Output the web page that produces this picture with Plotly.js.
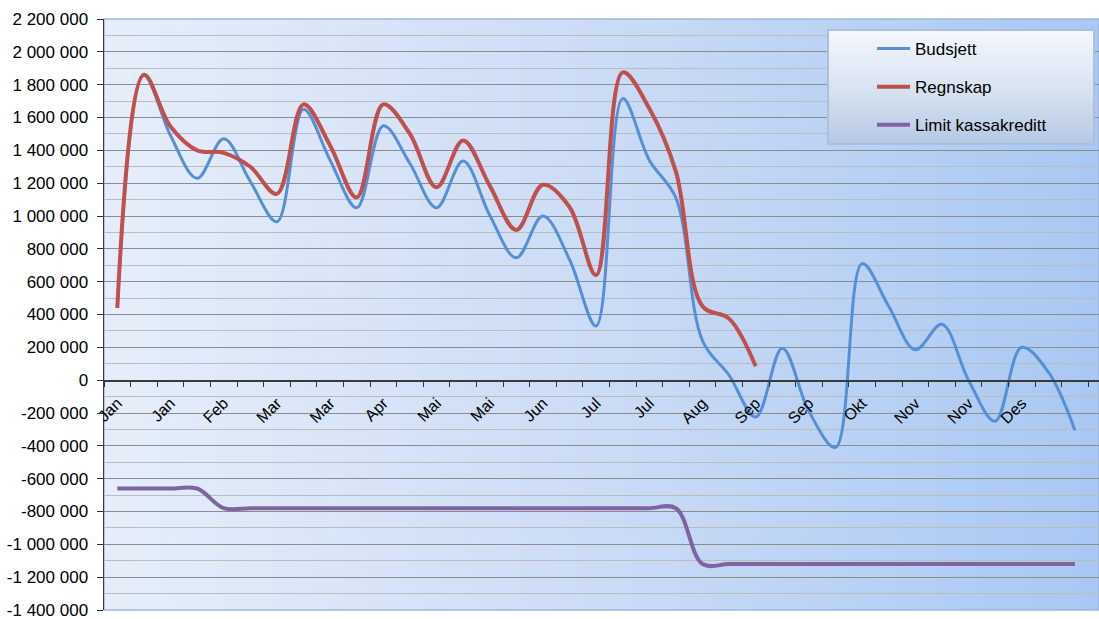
<!DOCTYPE html>
<html>
<head>
<meta charset="utf-8">
<script src="https://cdn.plot.ly/plotly-3.0.1.min.js"></script>
<style>
  html, body { margin: 0; padding: 0; background: #ffffff; }
  #chart { width: 1099px; height: 619px; }
</style>
</head>
<body>
<div id="chart"></div>
<script>
// ---- data ----
var tickLabels = ['Jan','Jan','Feb','Mar','Mar','Apr','Mai','Mai','Jun','Jul','Jul','Aug','Sep','Sep','Okt','Nov','Nov','Des'];
var tickLabelPos = [0,2,4,6,8,10,12,14,16,18,20,22,24,26,28,30,32,34];

var periods = [0,1,2,3,4,5,6,7,8,9,10,11,12,13,14,15,16,17,18,19,20,21,22,23,24,25,26,27,28,29,30,31,32,33,34,35,36];

var budsjett = [440000,1860000,1490000,1230000,1470000,1210000,965000,1650000,1340000,1050000,
                1550000,1320000,1050000,1335000,1005000,745000,1000000,735000,330000,1715000,
                1340000,1110000,240000,30000,-225000,195000,-190000,-410000,710000,450000,
                185000,340000,0,-250000,200000,50000,-305000];

var regnskap = [440000,1860000,1545000,1400000,1385000,1300000,1135000,1680000,1430000,1113000,
                1680000,1500000,1175000,1460000,1185000,915000,1190000,1055000,640000,1875000,
                1655000,1270000,450000,375000,85000];

var limit = [-660000,-660000,-660000,-660000,-780000,-780000,-780000,-780000,-780000,-780000,
             -780000,-780000,-780000,-780000,-780000,-780000,-780000,-780000,-780000,-780000,
             -780000,-780000,-1120000,-1120000,-1120000,-1120000,-1120000,-1120000,-1120000,-1120000,
             -1120000,-1120000,-1120000,-1120000,-1120000,-1120000,-1120000];

var yTickVals = [2200000,2000000,1800000,1600000,1400000,1200000,1000000,800000,600000,400000,200000,0,
                 -200000,-400000,-600000,-800000,-1000000,-1200000,-1400000];
var yTickText = ['2 200 000','2 000 000','1 800 000','1 600 000','1 400 000','1 200 000','1 000 000',
                 '800 000','600 000','400 000','200 000','0','-200 000','-400 000','-600 000','-800 000',
                 '-1 000 000','-1 200 000','-1 400 000'];

// ---- helpers for styling ----
function gradientURL(w, h, stops, horizontal, border) {
  var c = document.createElement('canvas');
  c.width = w; c.height = h;
  var ctx = c.getContext('2d');
  var g = horizontal ? ctx.createLinearGradient(0, 0, w, 0) : ctx.createLinearGradient(0, 0, 0, h);
  stops.forEach(function (s) { g.addColorStop(s[0], s[1]); });
  ctx.fillStyle = g;
  ctx.fillRect(0, 0, w, h);
  if (border) {
    ctx.strokeStyle = border;
    ctx.lineWidth = 2;
    ctx.strokeRect(1, 1, w - 2, h - 2);
  }
  return c.toDataURL('image/png');
}

var halfTicks = [];
for (var k = -0.5; k <= 37; k += 1) halfTicks.push(k);
var minorY = [];
for (var m = -1300000; m <= 2100000; m += 200000) minorY.push(m);

var W = 1099, H = 619, ML = 104, MR = 0, MT = 19, MB = 9;
var PW = W - ML - MR, PH = H - MT - MB;
function px(xp) { return (xp - ML) / PW; }
function py(yp) { return (H - MB - yp) / PH; }

var bgURL = gradientURL(600, 20, [[0, '#e6eefb'], [0.5, '#cbdcf6'], [1, '#a9c8f3']], true, null);
var lgW = 268, lgH = 116;
var legendURL = gradientURL(lgW, lgH, [[0, '#f5f8fd'], [0.55, '#d6e1f0'], [1, '#b4c8e4']], false, '#aebfd9');

var font = 'Liberation Sans, Arial, sans-serif';

var traces = [
  { x: periods, y: budsjett, name: 'Budsjett', type: 'scatter', mode: 'lines',
    line: { color: '#5590d6', width: 3, shape: 'spline', smoothing: 1 }, legendgroup: 'a' },
  { x: periods.slice(0, regnskap.length), y: regnskap, name: 'Regnskap', type: 'scatter', mode: 'lines',
    line: { color: '#c0504d', width: 4, shape: 'spline', smoothing: 1 }, legendgroup: 'b' },
  { x: periods, y: limit, name: 'Limit kassakreditt', type: 'scatter', mode: 'lines',
    line: { color: '#8064a2', width: 4, shape: 'spline', smoothing: 1 }, legendgroup: 'c' }
];

var layout = {
  width: W, height: H,
  margin: { l: ML, r: MR, t: MT, b: MB },
  paper_bgcolor: '#ffffff',
  plot_bgcolor: 'rgba(0,0,0,0)',
  font: { family: font, size: 17, color: '#000000' },
  showlegend: true,
  legend: {
    x: px(872), y: py(31), xanchor: 'left', yanchor: 'top',
    bgcolor: 'rgba(0,0,0,0)', borderwidth: 0,
    font: { family: font, size: 17, color: '#000' },
    traceorder: 'grouped', tracegroupgap: 13,
    itemwidth: 33
  },
  xaxis: {
    type: 'linear',
    range: [-0.5, -0.5 + PW / 26.6],
    tickmode: 'array', tickvals: tickLabelPos, ticktext: tickLabels,
    tickangle: -45,
    ticks: '', ticklabelstandoff: 6,
    minor: { tickmode: 'array', tickvals: halfTicks, ticks: 'outside', ticklen: 5, tickcolor: '#333', tickwidth: 1, showgrid: false },
    showline: true, linecolor: '#3a3a3a', linewidth: 1.5,
    showgrid: false, zeroline: false,
    anchor: 'free', position: 1400000 / 3600000,
    tickfont: { family: font, size: 16, color: '#000' },
    fixedrange: true
  },
  yaxis: {
    range: [-1400000, 2200000],
    tickmode: 'array', tickvals: yTickVals, ticktext: yTickText,
    ticks: 'outside', ticklen: 6, tickcolor: '#333', tickwidth: 1,
    showline: true, linecolor: '#3a3a3a', linewidth: 1.5,
    showgrid: true, gridcolor: '#8c8c8c', gridwidth: 1,
    minor: { tickmode: 'array', tickvals: minorY, showgrid: true, gridcolor: '#bcbcbc', gridwidth: 1, ticks: '' },
    zeroline: false,
    tickfont: { family: font, size: 17, color: '#000' },
    ticklabelstandoff: 5,
    ticklabeloverflow: 'allow',
    fixedrange: true
  },
  images: [
    { source: bgURL, xref: 'paper', yref: 'paper', x: 0, y: 1, sizex: 1, sizey: 1,
      xanchor: 'left', yanchor: 'top', sizing: 'stretch', layer: 'below' },
    { source: legendURL, xref: 'paper', yref: 'paper', x: px(827), y: py(29),
      sizex: lgW / PW, sizey: lgH / PH, xanchor: 'left', yanchor: 'top', sizing: 'stretch', layer: 'above' }
  ],
  shapes: [
    { type: 'rect', xref: 'paper', yref: 'paper', x0: 0, x1: 1, y0: 0, y1: 1,
      line: { color: '#9db8de', width: 1.5 }, fillcolor: 'rgba(0,0,0,0)', layer: 'below' }
  ]
};

Plotly.newPlot('chart', traces, layout, { displayModeBar: false, staticPlot: true });
</script>
</body>
</html>
